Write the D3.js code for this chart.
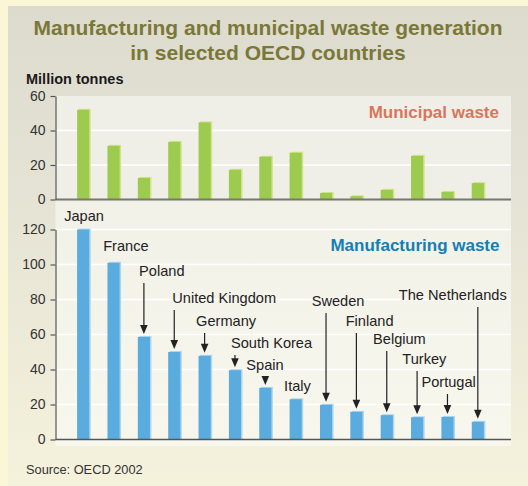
<!DOCTYPE html>
<html><head><meta charset="utf-8">
<script src="https://cdn.jsdelivr.net/npm/d3@7"></script>
<style>body{margin:0;background:#faf6d6;} svg{display:block;font-family:"Liberation Sans",Arial,Helvetica,sans-serif;}</style>
</head><body><svg id="c" width="528" height="486"></svg>
<script>
const countries = ["Japan","France","Poland","United Kingdom","Germany","South Korea","Spain","Italy","Sweden","Finland","Belgium","Turkey","Portugal","The Netherlands"];
const manufacturing = [120,101,58.6,50,47.8,39.6,29.5,23,19.8,15.8,13.9,12.7,12.9,10.1];
const municipal = [52,31.1,12.5,33.4,44.7,17.2,24.8,27.1,3.8,1.9,5.6,25.3,4.4,9.5];
const municipalTicks = [0,20,40,60];
const manufacturingTicks = [0,20,40,60,80,100,120];
const titleLines = ["Manufacturing and municipal waste generation","in selected OECD countries"];
// annotation layout (label baseline expressed in manufacturing units)
const labelLevel = [124.9,107.7,93.4,78,64.9,52.3,39.7,27.7,76.3,64.9,54.6,43.1,30,79.7];
const labelShift = [-19,-10.4,-4.8,-2,-8.5,-4,-19,-11.6,-14.3,-10.7,-13.7,-14.8,-26,-79];
const hasArrow = [false,false,true,true,true,true,true,false,true,true,true,true,true,true];

const svg = d3.select("#c");
const defs = svg.append("defs");
const g1 = defs.append("linearGradient").attr("id","panel").attr("x1",0).attr("y1",0).attr("x2",0).attr("y2",1);
g1.append("stop").attr("offset","0%").attr("stop-color","#dddbce");
g1.append("stop").attr("offset","45%").attr("stop-color","#e6e4d5");
g1.append("stop").attr("offset","100%").attr("stop-color","#f5f2dc");
const g2 = defs.append("linearGradient").attr("id","mbg").attr("x1",0).attr("y1",0).attr("x2",0).attr("y2",1);
g2.append("stop").attr("offset","0%").attr("stop-color","#f2f1e8");
g2.append("stop").attr("offset","100%").attr("stop-color","#f8f7ee");

svg.append("rect").attr("x",8).attr("y",6).attr("width",520).attr("height",480).attr("fill","url(#panel)");

// title
svg.append("g").selectAll("text").data(titleLines).join("text")
  .attr("x",268).attr("y",(d,i)=>35+i*24.5).attr("text-anchor","middle")
  .attr("font-size",21).attr("font-weight","bold").attr("fill","#7a7839").text(d=>d);

svg.append("text").attr("x",26).attr("y",84).attr("font-size",14.5).attr("font-weight","bold")
  .attr("fill","#1a1a1a").text("Million tonnes");

const x = d3.scaleBand().domain(countries).range([68,493]).paddingInner(0.6).paddingOuter(0.3);
const yMun = d3.scaleLinear().domain([0,60]).range([199.5,96]);
const yMan = d3.scaleLinear().domain([0,120]).range([439.5,229.5]);
const left = 55.5, right = 511;

// plot backgrounds
svg.append("rect").attr("x",left).attr("y",yMun(60)).attr("width",right-left).attr("height",yMun(0)-yMun(60)).attr("fill","#f0efe7");
svg.append("rect").attr("x",left).attr("y",yMun(0)+1).attr("width",right-left).attr("height",446-yMun(0)-1).attr("fill","url(#mbg)");

// gridlines
svg.append("g").selectAll("line").data(municipalTicks.filter(t=>t>0&&t<60)).join("line")
  .attr("x1",left).attr("x2",right).attr("y1",d=>yMun(d)).attr("y2",d=>yMun(d)).attr("stroke","#fff").attr("stroke-width",1.5);
svg.append("g").selectAll("line").data(manufacturingTicks.filter(t=>t>0)).join("line")
  .attr("x1",left).attr("x2",right).attr("y1",d=>yMan(d)).attr("y2",d=>yMan(d)).attr("stroke","#fff").attr("stroke-width",1.5);

const bw = x.bandwidth();
// municipal bars
const mg = svg.append("g");
mg.selectAll("rect.s").data(countries).join("rect").attr("class","s")
  .attr("x",d=>x(d)+1.5).attr("y",(d,i)=>yMun(municipal[i])-1).attr("width",bw)
  .attr("height",(d,i)=>yMun(0)-yMun(municipal[i])+1).attr("fill","#d3e38a");
mg.selectAll("rect.b").data(countries).join("rect").attr("class","b")
  .attr("x",d=>x(d)).attr("y",(d,i)=>yMun(municipal[i])).attr("width",bw)
  .attr("height",(d,i)=>yMun(0)-yMun(municipal[i])).attr("fill","#9dcb4f");

// manufacturing bars
const fg = svg.append("g");
fg.selectAll("rect.s").data(countries).join("rect").attr("class","s")
  .attr("x",d=>x(d)+1.5).attr("y",(d,i)=>yMan(manufacturing[i])-1).attr("width",bw)
  .attr("height",(d,i)=>yMan(0)-yMan(manufacturing[i])+1).attr("fill","#b2d5ee");
fg.selectAll("rect.b").data(countries).join("rect").attr("class","b")
  .attr("x",d=>x(d)).attr("y",(d,i)=>yMan(manufacturing[i])).attr("width",bw)
  .attr("height",(d,i)=>yMan(0)-yMan(manufacturing[i])).attr("fill","#5aabde");

// baselines
svg.append("line").attr("x1",left).attr("x2",right).attr("y1",yMun(0)).attr("y2",yMun(0)).attr("stroke","#777").attr("stroke-width",2);
svg.append("line").attr("x1",left).attr("x2",right).attr("y1",yMan(0)).attr("y2",yMan(0)).attr("stroke","#555").attr("stroke-width",1.5);

// axes
function styleAxis(sel){
  sel.select(".domain").attr("stroke","#555").attr("stroke-width",1.2);
  sel.selectAll(".tick line").attr("stroke","#555").attr("stroke-width",1.2);
  sel.selectAll(".tick text").attr("font-size",14).attr("fill","#333").attr("font-family","'Liberation Sans',Arial,sans-serif");
}
svg.append("g").attr("transform",`translate(${left},0)`)
  .call(d3.axisLeft(yMun).tickValues(municipalTicks).tickSize(5).tickSizeOuter(0).tickPadding(5)).call(styleAxis);
svg.append("g").attr("transform",`translate(${left},0)`)
  .call(d3.axisLeft(yMan).tickValues(manufacturingTicks).tickSize(5).tickSizeOuter(0).tickPadding(5)).call(styleAxis);

// series labels
svg.append("text").attr("x",499).attr("y",117.5).attr("text-anchor","end").attr("font-size",17)
  .attr("font-weight","bold").attr("fill","#d6775d").text("Municipal waste");
svg.append("text").attr("x",499.5).attr("y",251).attr("text-anchor","end").attr("font-size",17)
  .attr("font-weight","bold").attr("fill","#127fb6").text("Manufacturing waste");

// country labels and arrows
const cx = d => x(d) + bw/2;
const ann = svg.append("g");
ann.selectAll("text").data(countries).join("text")
  .attr("x",(d,i)=>cx(d)+labelShift[i]).attr("y",(d,i)=>yMan(labelLevel[i]))
  .attr("font-size",14.6).attr("fill","#222").text(d=>d);
const arrows = countries.map((d,i)=>({d,i})).filter(o=>hasArrow[o.i]);
ann.selectAll("line.ar").data(arrows).join("line").attr("class","ar")
  .attr("x1",o=>cx(o.d)).attr("x2",o=>cx(o.d))
  .attr("y1",o=>yMan(labelLevel[o.i])+7).attr("y2",o=>yMan(manufacturing[o.i])-10)
  .attr("stroke","#222").attr("stroke-width",1.2);
ann.selectAll("path.ah").data(arrows).join("path").attr("class","ah")
  .attr("d",o=>{const X=cx(o.d), Y=yMan(manufacturing[o.i])-3; return `M${X-3.8},${Y-9}L${X+3.8},${Y-9}L${X},${Y}Z`;})
  .attr("fill","#222");

svg.append("text").attr("x",26).attr("y",474).attr("font-size",12.8).attr("fill","#333").text("Source: OECD 2002");
</script></body></html>
